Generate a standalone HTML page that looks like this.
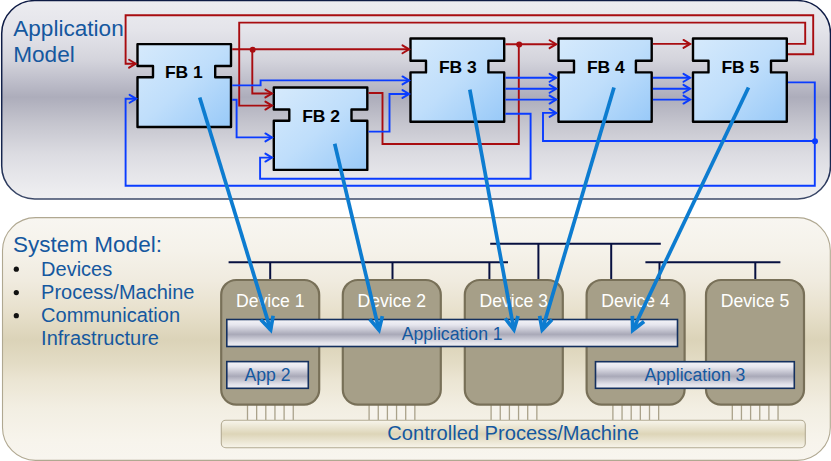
<!DOCTYPE html>
<html><head><meta charset="utf-8"><title>Application and System Model</title>
<style>
html,body{margin:0;padding:0;background:#fff;}
body{width:831px;height:461px;overflow:hidden;font-family:"Liberation Sans",sans-serif;}
svg{display:block;}
text{font-family:"Liberation Sans",sans-serif;}
</style></head><body>
<svg width="831" height="461" viewBox="0 0 831 461">
<defs>
<linearGradient id="top" x1="0" y1="0" x2="0" y2="1">
<stop offset="0" stop-color="#ececf0"/><stop offset="0.15" stop-color="#e4e4ea"/><stop offset="0.30" stop-color="#d4d4dc"/><stop offset="0.40" stop-color="#bfbfcb"/><stop offset="0.487" stop-color="#adadbb"/><stop offset="0.62" stop-color="#c5c5ce"/><stop offset="0.777" stop-color="#dcdce2"/><stop offset="0.94" stop-color="#ebebee"/><stop offset="1" stop-color="#efeff1"/>
</linearGradient>
<linearGradient id="bot" x1="0" y1="0" x2="0" y2="1">
<stop offset="0" stop-color="#f8f6f1"/><stop offset="0.135" stop-color="#f5f2ea"/><stop offset="0.26" stop-color="#f0ebdf"/><stop offset="0.38" stop-color="#e8e1cd"/><stop offset="0.505" stop-color="#dbd3b8"/><stop offset="0.6" stop-color="#e3dcc5"/><stop offset="0.67" stop-color="#ebe5d3"/><stop offset="0.78" stop-color="#f2eee2"/><stop offset="0.92" stop-color="#f7f4ec"/><stop offset="1" stop-color="#f8f5ef"/>
</linearGradient>
<linearGradient id="topst" x1="0" y1="0" x2="0" y2="1"><stop offset="0" stop-color="#0d1a44"/><stop offset="0.8" stop-color="#15254f"/><stop offset="1" stop-color="#3d4a69"/></linearGradient>
<linearGradient id="fbg" x1="0" y1="0" x2="1" y2="1">
<stop offset="0" stop-color="#d6eafc"/><stop offset="0.5" stop-color="#bfdefb"/><stop offset="1" stop-color="#98c9f8"/>
</linearGradient>
<linearGradient id="metal" x1="0" y1="0" x2="0" y2="1">
<stop offset="0" stop-color="#f4f4f8"/><stop offset="0.2" stop-color="#e6e6ee"/><stop offset="0.55" stop-color="#a9a9b8"/><stop offset="0.85" stop-color="#e2e2ea"/><stop offset="1" stop-color="#f0f0f4"/>
</linearGradient>
<linearGradient id="cpm" x1="0" y1="0" x2="0" y2="1">
<stop offset="0" stop-color="#f8f5ec"/><stop offset="0.5" stop-color="#ddd5b8"/><stop offset="1" stop-color="#f7f4ea"/>
</linearGradient>
</defs>
<rect width="831" height="461" fill="#fff"/>
<rect x="1.7" y="0.6" width="828.8" height="198.3" rx="33" ry="33" fill="url(#top)" stroke="url(#topst)" stroke-width="1.5"/>
<rect x="2.5" y="217.6" width="827.8" height="242.8" rx="33" ry="33" fill="url(#bot)" stroke="#b0a891" stroke-width="1.1"/>
<text x="13.2" y="35.7" font-size="22.6" fill="#15589f">Application</text>
<text x="13.2" y="61.6" font-size="22.6" fill="#15589f">Model</text>
<text x="13.1" y="252" font-size="22.5" fill="#15589f">System Model:</text>
<text x="41.1" y="276" font-size="20" fill="#15589f">Devices</text>
<text x="41.1" y="299" font-size="20" fill="#15589f">Process/Machine</text>
<text x="41.1" y="322" font-size="20" fill="#15589f">Communication</text>
<text x="41.1" y="345.1" font-size="20" fill="#15589f">Infrastructure</text>
<circle cx="16.3" cy="269.2" r="2.6" fill="#111"/>
<circle cx="16.3" cy="292.6" r="2.6" fill="#111"/>
<circle cx="16.3" cy="315.7" r="2.6" fill="#111"/>
<path d="M137.5,44.1 H231.0 V66.0 H215.2 V77.3 H231.0 V127.0 H137.5 V77.3 H153.0 V66.0 H137.5 Z" fill="url(#fbg)" stroke="#000" stroke-width="2.4" stroke-linejoin="round"/>
<text x="164.90" y="77.9" textLength="37.9" lengthAdjust="spacingAndGlyphs" font-size="16.6" font-weight="bold" fill="#000">FB 1</text>
<path d="M273.8,87.45 H367.3 V109.5 H351.5 V120.8 H367.3 V169.9 H273.8 V120.8 H289.3 V109.5 H273.8 Z" fill="url(#fbg)" stroke="#000" stroke-width="2.4" stroke-linejoin="round"/>
<text x="302.20" y="122.2" textLength="37.9" lengthAdjust="spacingAndGlyphs" font-size="16.6" font-weight="bold" fill="#000">FB 2</text>
<path d="M410.5,38.5 H504.2 V60.8 H488.4 V72.4 H504.2 V121.7 H410.5 V72.4 H426.0 V60.8 H410.5 Z" fill="url(#fbg)" stroke="#000" stroke-width="2.4" stroke-linejoin="round"/>
<text x="438.90" y="73.4" textLength="37.9" lengthAdjust="spacingAndGlyphs" font-size="16.6" font-weight="bold" fill="#000">FB 3</text>
<path d="M558.5,38.5 H651.7 V60.8 H635.9000000000001 V72.4 H651.7 V121.7 H558.5 V72.4 H574.0 V60.8 H558.5 Z" fill="url(#fbg)" stroke="#000" stroke-width="2.4" stroke-linejoin="round"/>
<text x="586.90" y="73.4" textLength="37.9" lengthAdjust="spacingAndGlyphs" font-size="16.6" font-weight="bold" fill="#000">FB 4</text>
<path d="M693,38.5 H786.8 V60.8 H771.0 V72.4 H786.8 V121.7 H693 V72.4 H708.5 V60.8 H693 Z" fill="url(#fbg)" stroke="#000" stroke-width="2.4" stroke-linejoin="round"/>
<text x="721.40" y="73.4" textLength="37.9" lengthAdjust="spacingAndGlyphs" font-size="16.6" font-weight="bold" fill="#000">FB 5</text>
<path d="M788,54.2 L813.2,54.2 L813.2,15.3 L125.6,15.3 L125.6,63.7 L135.7,63.7" fill="none" stroke="#a80c10" stroke-width="1.9" stroke-linejoin="miter"/>
<path d="M129.1,59.75 L135.7,63.7 L129.1,67.65" fill="none" stroke="#a80c10" stroke-width="2.0" stroke-linecap="round" stroke-linejoin="miter"/>
<path d="M788,43.9 L805.2,43.9 L805.2,22.6 L239.2,22.6 L239.2,105.6 L272.0,105.6" fill="none" stroke="#a80c10" stroke-width="1.9" stroke-linejoin="miter"/>
<path d="M265.4,101.64999999999999 L272.0,105.6 L265.4,109.55" fill="none" stroke="#a80c10" stroke-width="2.0" stroke-linecap="round" stroke-linejoin="miter"/>
<path d="M232.2,49.3 L409.1,49.3" fill="none" stroke="#a80c10" stroke-width="1.9" stroke-linejoin="miter"/>
<path d="M402.5,45.349999999999994 L409.1,49.3 L402.5,53.25" fill="none" stroke="#a80c10" stroke-width="2.0" stroke-linecap="round" stroke-linejoin="miter"/>
<path d="M252.3,49.3 L252.3,93.5 L272.0,93.5" fill="none" stroke="#a80c10" stroke-width="1.9" stroke-linejoin="miter"/>
<path d="M265.4,89.55 L272.0,93.5 L265.4,97.45" fill="none" stroke="#a80c10" stroke-width="2.0" stroke-linecap="round" stroke-linejoin="miter"/>
<circle cx="252.7" cy="49.7" r="3.0" fill="#a80c10"/>
<path d="M505.4,44.2 L556.2,44.2" fill="none" stroke="#a80c10" stroke-width="1.9" stroke-linejoin="miter"/>
<path d="M549.6,40.25 L556.2,44.2 L549.6,48.150000000000006" fill="none" stroke="#a80c10" stroke-width="2.0" stroke-linecap="round" stroke-linejoin="miter"/>
<path d="M518.8,44.2 L518.8,144 L382.5,144 L382.5,93 L368.5,93" fill="none" stroke="#a80c10" stroke-width="1.9" stroke-linejoin="miter"/>
<circle cx="519.2" cy="44.6" r="3.0" fill="#a80c10"/>
<path d="M652.9,43.9 L690.1,43.9" fill="none" stroke="#a80c10" stroke-width="1.9" stroke-linejoin="miter"/>
<path d="M683.5,39.949999999999996 L690.1,43.9 L683.5,47.85" fill="none" stroke="#a80c10" stroke-width="2.0" stroke-linecap="round" stroke-linejoin="miter"/>
<path d="M232.2,85.4 L260.6,85.4 L260.6,80.4 L409.1,80.4" fill="none" stroke="#0a3cff" stroke-width="1.9" stroke-linejoin="miter"/>
<path d="M402.5,76.45 L409.1,80.4 L402.5,84.35000000000001" fill="none" stroke="#0a3cff" stroke-width="2.0" stroke-linecap="round" stroke-linejoin="miter"/>
<path d="M232.2,99.8 L236.6,99.8 L236.6,137.4 L272.0,137.4" fill="none" stroke="#0a3cff" stroke-width="1.9" stroke-linejoin="miter"/>
<path d="M265.4,133.45000000000002 L272.0,137.4 L265.4,141.35" fill="none" stroke="#0a3cff" stroke-width="2.0" stroke-linecap="round" stroke-linejoin="miter"/>
<path d="M368.5,131.6 L389.5,131.6 L389.5,94 L409.1,94" fill="none" stroke="#0a3cff" stroke-width="1.9" stroke-linejoin="miter"/>
<path d="M402.5,90.05 L409.1,94 L402.5,97.95" fill="none" stroke="#0a3cff" stroke-width="2.0" stroke-linecap="round" stroke-linejoin="miter"/>
<path d="M505.4,113.7 L530.6,113.7 L530.6,178.8 L260.1,178.8 L260.1,157.6 L272.0,157.6" fill="none" stroke="#0a3cff" stroke-width="1.9" stroke-linejoin="miter"/>
<path d="M265.4,153.65 L272.0,157.6 L265.4,161.54999999999998" fill="none" stroke="#0a3cff" stroke-width="2.0" stroke-linecap="round" stroke-linejoin="miter"/>
<path d="M788,82.4 L814.8,82.4 L814.8,185.8 L125.6,185.8 L125.6,98.8 L136.2,98.8" fill="none" stroke="#0a3cff" stroke-width="1.9" stroke-linejoin="miter"/>
<path d="M129.6,94.85 L136.2,98.8 L129.6,102.75" fill="none" stroke="#0a3cff" stroke-width="2.0" stroke-linecap="round" stroke-linejoin="miter"/>
<path d="M814.8,141.0 L543.0,141.0 L543.0,112.9 L556.2,112.9" fill="none" stroke="#0a3cff" stroke-width="1.9" stroke-linejoin="miter"/>
<path d="M549.6,108.95 L556.2,112.9 L549.6,116.85000000000001" fill="none" stroke="#0a3cff" stroke-width="2.0" stroke-linecap="round" stroke-linejoin="miter"/>
<circle cx="815.0" cy="141.2" r="3.0" fill="#0a3cff"/>
<path d="M505.4,77.8 L556.2,77.8" fill="none" stroke="#0a3cff" stroke-width="1.9" stroke-linejoin="miter"/>
<path d="M549.6,73.85 L556.2,77.8 L549.6,81.75" fill="none" stroke="#0a3cff" stroke-width="2.0" stroke-linecap="round" stroke-linejoin="miter"/>
<path d="M652.9,77.8 L690.1,77.8" fill="none" stroke="#0a3cff" stroke-width="1.9" stroke-linejoin="miter"/>
<path d="M683.5,73.85 L690.1,77.8 L683.5,81.75" fill="none" stroke="#0a3cff" stroke-width="2.0" stroke-linecap="round" stroke-linejoin="miter"/>
<path d="M505.4,88.8 L556.2,88.8" fill="none" stroke="#0a3cff" stroke-width="1.9" stroke-linejoin="miter"/>
<path d="M549.6,84.85 L556.2,88.8 L549.6,92.75" fill="none" stroke="#0a3cff" stroke-width="2.0" stroke-linecap="round" stroke-linejoin="miter"/>
<path d="M652.9,88.8 L690.1,88.8" fill="none" stroke="#0a3cff" stroke-width="1.9" stroke-linejoin="miter"/>
<path d="M683.5,84.85 L690.1,88.8 L683.5,92.75" fill="none" stroke="#0a3cff" stroke-width="2.0" stroke-linecap="round" stroke-linejoin="miter"/>
<path d="M505.4,99.6 L556.2,99.6" fill="none" stroke="#0a3cff" stroke-width="1.9" stroke-linejoin="miter"/>
<path d="M549.6,95.64999999999999 L556.2,99.6 L549.6,103.55" fill="none" stroke="#0a3cff" stroke-width="2.0" stroke-linecap="round" stroke-linejoin="miter"/>
<path d="M652.9,99.6 L690.1,99.6" fill="none" stroke="#0a3cff" stroke-width="1.9" stroke-linejoin="miter"/>
<path d="M683.5,95.64999999999999 L690.1,99.6 L683.5,103.55" fill="none" stroke="#0a3cff" stroke-width="2.0" stroke-linecap="round" stroke-linejoin="miter"/>
<line x1="228.6" y1="262.3" x2="508" y2="262.3" stroke="#071040" stroke-width="2.0"/>
<line x1="270.2" y1="262.3" x2="270.2" y2="280" stroke="#071040" stroke-width="2.0"/>
<line x1="392.5" y1="262.3" x2="392.5" y2="280" stroke="#071040" stroke-width="2.0"/>
<line x1="489.4" y1="262.3" x2="489.4" y2="280" stroke="#071040" stroke-width="2.0"/>
<line x1="490.2" y1="243.8" x2="660.8" y2="243.8" stroke="#071040" stroke-width="2.0"/>
<line x1="538.4" y1="243.8" x2="538.4" y2="280" stroke="#071040" stroke-width="2.0"/>
<line x1="611.2" y1="243.8" x2="611.2" y2="280" stroke="#071040" stroke-width="2.0"/>
<line x1="645.4" y1="262.3" x2="780.4" y2="262.3" stroke="#071040" stroke-width="2.0"/>
<line x1="659.5" y1="262.3" x2="659.5" y2="280" stroke="#071040" stroke-width="2.0"/>
<line x1="755.3" y1="262.3" x2="755.3" y2="280" stroke="#071040" stroke-width="2.0"/>
<rect x="247.5" y="403" width="45.8" height="17" fill="#f6f3ec"/>
<line x1="247.5" y1="403" x2="247.5" y2="420" stroke="#aaa28b" stroke-width="1.3"/>
<line x1="256.65" y1="403" x2="256.65" y2="420" stroke="#aaa28b" stroke-width="1.3"/>
<line x1="265.8" y1="403" x2="265.8" y2="420" stroke="#aaa28b" stroke-width="1.3"/>
<line x1="274.95" y1="403" x2="274.95" y2="420" stroke="#aaa28b" stroke-width="1.3"/>
<line x1="284.1" y1="403" x2="284.1" y2="420" stroke="#aaa28b" stroke-width="1.3"/>
<line x1="293.25" y1="403" x2="293.25" y2="420" stroke="#aaa28b" stroke-width="1.3"/>
<rect x="221.2" y="280" width="98" height="124.6" rx="15" ry="15" fill="#a69f88" stroke="#787058" stroke-width="2.2"/>
<text x="270.20" y="306.9" text-anchor="middle" font-size="17.6" fill="#fff">Device 1</text>
<rect x="369.1" y="403" width="45.8" height="17" fill="#f6f3ec"/>
<line x1="369.1" y1="403" x2="369.1" y2="420" stroke="#aaa28b" stroke-width="1.3"/>
<line x1="378.25" y1="403" x2="378.25" y2="420" stroke="#aaa28b" stroke-width="1.3"/>
<line x1="387.40000000000003" y1="403" x2="387.40000000000003" y2="420" stroke="#aaa28b" stroke-width="1.3"/>
<line x1="396.55" y1="403" x2="396.55" y2="420" stroke="#aaa28b" stroke-width="1.3"/>
<line x1="405.70000000000005" y1="403" x2="405.70000000000005" y2="420" stroke="#aaa28b" stroke-width="1.3"/>
<line x1="414.85" y1="403" x2="414.85" y2="420" stroke="#aaa28b" stroke-width="1.3"/>
<rect x="342.8" y="280" width="98" height="124.6" rx="15" ry="15" fill="#a69f88" stroke="#787058" stroke-width="2.2"/>
<text x="391.80" y="306.9" text-anchor="middle" font-size="17.6" fill="#fff">Device 2</text>
<rect x="491.1" y="403" width="45.8" height="17" fill="#f6f3ec"/>
<line x1="491.1" y1="403" x2="491.1" y2="420" stroke="#aaa28b" stroke-width="1.3"/>
<line x1="500.25" y1="403" x2="500.25" y2="420" stroke="#aaa28b" stroke-width="1.3"/>
<line x1="509.40000000000003" y1="403" x2="509.40000000000003" y2="420" stroke="#aaa28b" stroke-width="1.3"/>
<line x1="518.5500000000001" y1="403" x2="518.5500000000001" y2="420" stroke="#aaa28b" stroke-width="1.3"/>
<line x1="527.7" y1="403" x2="527.7" y2="420" stroke="#aaa28b" stroke-width="1.3"/>
<line x1="536.85" y1="403" x2="536.85" y2="420" stroke="#aaa28b" stroke-width="1.3"/>
<rect x="464.8" y="280" width="98" height="124.6" rx="15" ry="15" fill="#a69f88" stroke="#787058" stroke-width="2.2"/>
<text x="513.80" y="306.9" text-anchor="middle" font-size="17.6" fill="#fff">Device 3</text>
<rect x="612.9" y="403" width="45.8" height="17" fill="#f6f3ec"/>
<line x1="612.9" y1="403" x2="612.9" y2="420" stroke="#aaa28b" stroke-width="1.3"/>
<line x1="622.05" y1="403" x2="622.05" y2="420" stroke="#aaa28b" stroke-width="1.3"/>
<line x1="631.1999999999999" y1="403" x2="631.1999999999999" y2="420" stroke="#aaa28b" stroke-width="1.3"/>
<line x1="640.35" y1="403" x2="640.35" y2="420" stroke="#aaa28b" stroke-width="1.3"/>
<line x1="649.5" y1="403" x2="649.5" y2="420" stroke="#aaa28b" stroke-width="1.3"/>
<line x1="658.65" y1="403" x2="658.65" y2="420" stroke="#aaa28b" stroke-width="1.3"/>
<rect x="586.6" y="280" width="98" height="124.6" rx="15" ry="15" fill="#a69f88" stroke="#787058" stroke-width="2.2"/>
<text x="635.60" y="306.9" text-anchor="middle" font-size="17.6" fill="#fff">Device 4</text>
<rect x="732.3" y="403" width="45.8" height="17" fill="#f6f3ec"/>
<line x1="732.3" y1="403" x2="732.3" y2="420" stroke="#aaa28b" stroke-width="1.3"/>
<line x1="741.4499999999999" y1="403" x2="741.4499999999999" y2="420" stroke="#aaa28b" stroke-width="1.3"/>
<line x1="750.5999999999999" y1="403" x2="750.5999999999999" y2="420" stroke="#aaa28b" stroke-width="1.3"/>
<line x1="759.75" y1="403" x2="759.75" y2="420" stroke="#aaa28b" stroke-width="1.3"/>
<line x1="768.9" y1="403" x2="768.9" y2="420" stroke="#aaa28b" stroke-width="1.3"/>
<line x1="778.05" y1="403" x2="778.05" y2="420" stroke="#aaa28b" stroke-width="1.3"/>
<rect x="706" y="280" width="98" height="124.6" rx="15" ry="15" fill="#a69f88" stroke="#787058" stroke-width="2.2"/>
<text x="755.00" y="306.9" text-anchor="middle" font-size="17.6" fill="#fff">Device 5</text>
<rect x="221.3" y="420.3" width="584" height="27.4" rx="4.5" ry="4.5" fill="url(#cpm)" stroke="#b3ab93" stroke-width="1.1"/>
<text x="513.1" y="440.4" text-anchor="middle" font-size="20.12" fill="#15589f">Controlled Process/Machine</text>
<rect x="226.8" y="319.5" width="450.7" height="27.0" fill="url(#metal)" stroke="#14305f" stroke-width="1.6"/>
<text x="452.15" y="339.90" text-anchor="middle" font-size="17.65" fill="#15589f">Application 1</text>
<rect x="226.8" y="361.6" width="81.5" height="26.69999999999999" fill="url(#metal)" stroke="#14305f" stroke-width="1.6"/>
<text x="267.55" y="381.40" text-anchor="middle" font-size="17.65" fill="#15589f">App 2</text>
<rect x="595.5" y="361.7" width="198.79999999999995" height="26.600000000000023" fill="url(#metal)" stroke="#14305f" stroke-width="1.6"/>
<text x="694.9" y="381.40" text-anchor="middle" font-size="17.65" fill="#15589f">Application 3</text>
<path d="M199.7,97.5 L270.63,329.87" stroke="#0d7cd0" stroke-width="3.7" fill="none" stroke-linecap="butt"/>
<path d="M260.70,319.58 L270.63,329.87 L273.12,315.79" stroke="#0d7cd0" stroke-width="3.7" fill="none" stroke-linecap="butt" stroke-linejoin="miter" stroke-miterlimit="10"/>
<path d="M334.7,143.7 L378.99,330.02" stroke="#0d7cd0" stroke-width="3.7" fill="none" stroke-linecap="butt"/>
<path d="M369.72,319.13 L378.99,330.02 L382.36,316.13" stroke="#0d7cd0" stroke-width="3.7" fill="none" stroke-linecap="butt" stroke-linejoin="miter" stroke-miterlimit="10"/>
<path d="M469.8,89.6 L513.92,329.79" stroke="#0d7cd0" stroke-width="3.7" fill="none" stroke-linecap="butt"/>
<path d="M505.23,318.44 L513.92,329.79 L518.00,316.09" stroke="#0d7cd0" stroke-width="3.7" fill="none" stroke-linecap="butt" stroke-linejoin="miter" stroke-miterlimit="10"/>
<path d="M614,87.5 L542.25,329.86" stroke="#0d7cd0" stroke-width="3.7" fill="none" stroke-linecap="butt"/>
<path d="M539.64,315.80 L542.25,329.86 L552.09,319.49" stroke="#0d7cd0" stroke-width="3.7" fill="none" stroke-linecap="butt" stroke-linejoin="miter" stroke-miterlimit="10"/>
<path d="M748.5,87.5 L632.74,330.21" stroke="#0d7cd0" stroke-width="3.7" fill="none" stroke-linecap="butt"/>
<path d="M632.37,315.91 L632.74,330.21 L644.09,321.50" stroke="#0d7cd0" stroke-width="3.7" fill="none" stroke-linecap="butt" stroke-linejoin="miter" stroke-miterlimit="10"/>
</svg></body></html>
